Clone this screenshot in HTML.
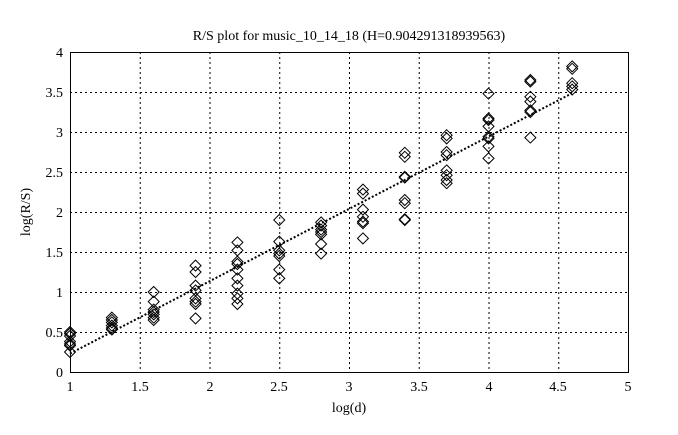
<!DOCTYPE html>
<html><head><meta charset="utf-8"><style>
html,body{margin:0;padding:0;background:#fff;}
svg text{font-family:"Liberation Serif",serif;fill:#000;}
</style></head><body>
<svg id="s" width="678" height="430" viewBox="0 0 678 430" xmlns="http://www.w3.org/2000/svg">
<rect width="678" height="430" fill="#fff"/>
<g id="grid" stroke="#000" stroke-width="1" stroke-dasharray="2,3" fill="none"></g>
<rect x="70.5" y="52.5" width="558" height="320" fill="none" stroke="#000" stroke-width="1"/>
<g id="pts" fill="none" stroke="#000" stroke-width="1"></g>
<line x1="70" y1="353.6" x2="572" y2="93.3" stroke="#000" stroke-width="2" stroke-dasharray="2,2"/>
<text x="349" y="40" font-size="14" text-anchor="middle">R/S plot for music_10_14_18 (H=0.904291318939563)</text>
<g font-size="14" text-anchor="middle">
<text x="70" y="391">1</text><text x="140" y="391">1.5</text><text x="210" y="391">2</text><text x="279" y="391">2.5</text><text x="349" y="391">3</text><text x="419" y="391">3.5</text><text x="489" y="391">4</text><text x="558" y="391">4.5</text><text x="628" y="391">5</text>
</g>
<g font-size="14" text-anchor="end">
<text x="63" y="377">0</text><text x="63" y="337">0.5</text><text x="63" y="297">1</text><text x="63" y="257">1.5</text><text x="63" y="217">2</text><text x="63" y="177">2.5</text><text x="63" y="137">3</text><text x="63" y="97">3.5</text><text x="63" y="57">4</text>
</g>
<text x="349" y="412" font-size="14" text-anchor="middle">log(d)</text>
<text transform="translate(30,212) rotate(-90)" font-size="14" text-anchor="middle">log(R/S)</text>
</svg>
<script>
var ns="http://www.w3.org/2000/svg";
var X=function(v){return 70+(v-1)*139.5}, Y=function(v){return 372-v*80};
var g=document.getElementById('grid');
[1.5,2,2.5,3,3.5,4,4.5].forEach(function(v){var l=document.createElementNS(ns,'line');l.setAttribute('x1',X(v)+0.5);l.setAttribute('x2',X(v)+0.5);l.setAttribute('y1',52);l.setAttribute('y2',372);g.appendChild(l);});
[0.5,1,1.5,2,2.5,3,3.5].forEach(function(v){var l=document.createElementNS(ns,'line');l.setAttribute('y1',Y(v)+0.5);l.setAttribute('y2',Y(v)+0.5);l.setAttribute('x1',70);l.setAttribute('x2',628);g.appendChild(l);});
var d={1:[0.5,0.48,0.45,0.38,0.35,0.33,0.25],1.3:[0.68,0.65,0.62,0.58,0.55,0.53],1.6:[1.0,0.88,0.78,0.75,0.72,0.68,0.65],1.9:[1.33,1.25,1.08,1.02,0.92,0.88,0.85,0.67],2.2:[1.62,1.52,1.38,1.35,1.28,1.17,1.08,0.98,0.92,0.85],2.5:[1.9,1.63,1.52,1.48,1.45,1.28,1.17],2.8:[1.87,1.83,1.78,1.75,1.72,1.6,1.48],3.1:[2.28,2.23,2.03,1.94,1.88,1.86,1.67],3.4:[2.74,2.69,2.44,2.43,2.15,2.11,1.91,1.9],3.7:[2.96,2.92,2.75,2.71,2.52,2.46,2.4,2.36],4.0:[3.48,3.17,3.15,3.07,2.94,2.92,2.82,2.67],4.3:[3.65,3.63,3.44,3.38,3.27,3.25,2.93],4.6:[3.82,3.79,3.61,3.57,3.53]};
var p=document.getElementById('pts');
for(var k in d){d[k].forEach(function(v){var x=X(+k),y=Y(v),r=5.5;var e=document.createElementNS(ns,'polygon');e.setAttribute('points',(x)+','+(y-r)+' '+(x+r)+','+y+' '+x+','+(y+r)+' '+(x-r)+','+y);p.appendChild(e);});}
</script>
</body></html>
